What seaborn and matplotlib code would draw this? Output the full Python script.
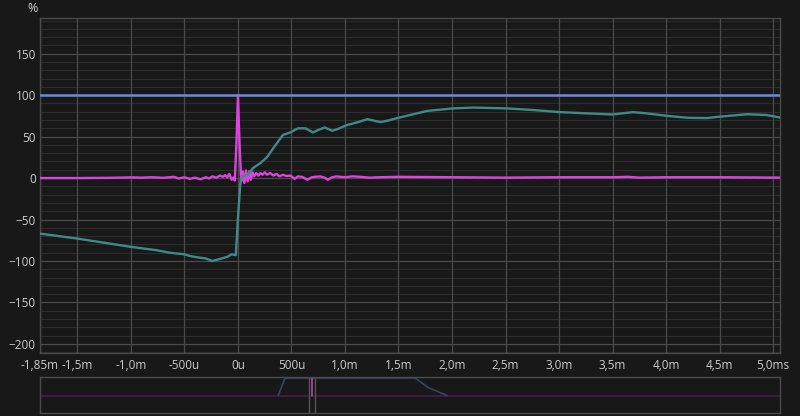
import numpy as np
import pandas as pd
import seaborn as sns
import matplotlib.pyplot as plt
from matplotlib.ticker import FixedLocator, NullLocator

# data (time in ms, values in %)
ref_t = [-1.85, 5.065]
ref_v = [100, 100]

step_t = [-1.85, -1.5, -1.0, -0.76, -0.64, -0.5, -0.45, -0.36, -0.3, -0.24, -0.18, -0.10, -0.06, -0.02,
          0.003, 0.025, 0.047, 0.093, 0.14, 0.21, 0.27, 0.33, 0.42, 0.49, 0.56, 0.63, 0.70, 0.75, 0.81,
          0.88, 0.93, 1.02, 1.11, 1.21, 1.33, 1.39, 1.51, 1.77, 2.01, 2.20, 2.51, 2.76, 3.01, 3.26, 3.50,
          3.69, 3.82, 4.01, 4.20, 4.38, 4.50, 4.76, 4.94, 5.065]
step_v = [-67, -73, -83, -87, -90, -92, -94, -96, -97, -100, -98, -95, -92, -93,
          -42, -2, 2.5, 4, 12, 18, 25, 36, 52, 55, 60, 60, 55, 58, 61,
          57, 59, 64, 67, 71, 67.5, 69, 73, 81, 84, 85, 84, 82, 79.5, 78, 76.7,
          79.5, 78, 75, 72.7, 72.3, 74, 77, 76, 73]

imp_t = [-1.85, -1.5, -1.2, -1.0, -0.9, -0.8, -0.7, -0.6, -0.55, -0.5, -0.45, -0.4, -0.35, -0.3,
         -0.27, -0.24, -0.2, -0.17, -0.14, -0.12, -0.10, -0.08, -0.06, -0.045, -0.03, -0.015, 0.0,
         0.015, 0.03, 0.045, 0.06, 0.075, 0.09, 0.105, 0.12, 0.135, 0.15, 0.17, 0.19, 0.21, 0.23,
         0.25, 0.27, 0.30, 0.33, 0.36, 0.39, 0.42, 0.45, 0.49, 0.53, 0.56, 0.60, 0.65, 0.69, 0.72,
         0.77, 0.81, 0.84, 0.88, 0.92, 1.0, 1.07, 1.14, 1.23, 1.33, 1.5, 2.0, 2.5, 3.0, 3.5, 3.65,
         3.75, 4.0, 4.5, 5.065]
imp_v = [0, 0, 0.3, 0.8, 0.5, 1, 0.3, 1.5, -0.5, 1, -1, 0.5, -1.5, 1,
         -0.5, 2, 0.5, 3, 1.5, 3.5, 1, 5, -2, 0.5, -3, 40, 100,
         40, -4, 8, -6, 9, -4, 8, -2, 7, 2, 6, 3, 6, 4,
         7, 4, 6, 3, 5, 2, 4, 2.5, 3, -1, 2, 1.5, -2, 1, 1.5,
         2, 0.5, -2, 1, 2, 1, 2, 1.5, 0.5, 1, 1.5, 1, 0.5, 1, 1, 1.5,
         0.5, 1, 1, 0.5]

x_ticks = [-1.85, -1.5, -1.0, -0.5, 0, 0.5, 1.0, 1.5, 2.0, 2.5, 3.0, 3.5, 4.0, 4.5, 5.0]
x_labels = ['-1,85m', '-1,5m', '-1,0m', '-500u', '0u', '500u', '1,0m', '1,5m', '2,0m',
            '2,5m', '3,0m', '3,5m', '4,0m', '4,5m', '5,0ms']
y_ticks = [-200, -150, -100, -50, 0, 50, 100, 150]

# overview strip (fraction of full span)
win_x = [0.322, 0.331, 0.507, 0.525, 0.550]
win_y = [0, 1, 1, 0.45, 0]
cursor_x = [0.363, 0.371]
peak_x = 0.367

bg = '#181818'
sns.set_style('dark')
plt.rcParams['font.family'] = ['Open Sans', 'DejaVu Sans']

fig = plt.figure(figsize=(8, 4.16), dpi=100, facecolor=bg)
ax = fig.add_axes([0.05, 0.1514, 0.925, 0.8053])
ax.set_facecolor(bg)

sns.lineplot(x=imp_t, y=imp_v, ax=ax, color='#dc44e0', linewidth=1.7, zorder=3)
sns.lineplot(x=step_t, y=step_v, ax=ax, color='#3f8a88', linewidth=1.7, zorder=4)
sns.lineplot(x=ref_t, y=ref_v, ax=ax, color='#7088d8', linewidth=1.8, zorder=5)

ax.set_xlim(-1.85, 5.065)
ax.set_ylim(-211, 193)
ax.xaxis.set_major_locator(FixedLocator(x_ticks))
ax.set_xticklabels(x_labels)
ax.yaxis.set_major_locator(FixedLocator(y_ticks))
ax.minorticks_off()
ax.xaxis.set_minor_locator(NullLocator())
ax.yaxis.set_minor_locator(NullLocator())
ax.grid(False)
ax.grid(which='major', color='#4a4a4a', linewidth=0.9, zorder=1)
# faint 10 % lines
for yv in range(-210, 191, 10):
    if yv % 50 != 0:
        ax.axhline(yv, color='#2c2c2c', linewidth=0.8, zorder=0.5)
ax.set_axisbelow(True)
ax.tick_params(which='both', length=0, colors='#cccccc', labelsize=8.5, pad=4)
ax.tick_params(axis='y', pad=3)
for s in ax.spines.values():
    s.set_color('#4a4a4a')
    s.set_linewidth(1)
ax.set_xlabel('')
ax.set_ylabel('')
fig.text(33 / 800, 1 - 9 / 416, '%', color='#cccccc', fontsize=9, ha='center', va='center')

# overview
ov = fig.add_axes([0.05, 0.0072, 0.925, 0.0865])
ov.set_facecolor(bg)
ov.set_xlim(0, 1)
ov.set_ylim(-1.0, 1.06)
ov.axhline(0, color='#3c1c40', linewidth=1.5)
sns.lineplot(x=win_x, y=win_y, ax=ov, color='#3a4262', linewidth=1.2)
for cx in cursor_x:
    ov.axvline(cx, color='#555555', linewidth=1)
ov.plot([peak_x, peak_x], [-0.05, 1.06], color='#cc44cc', linewidth=1.1)
ov.set_xticks([])
ov.set_yticks([])
ov.grid(False)
ov.set_xlabel('')
ov.set_ylabel('')
for s in ov.spines.values():
    s.set_color('#4a4a4a')
    s.set_linewidth(1)

fig.savefig('out.png', dpi=100, facecolor=bg)
